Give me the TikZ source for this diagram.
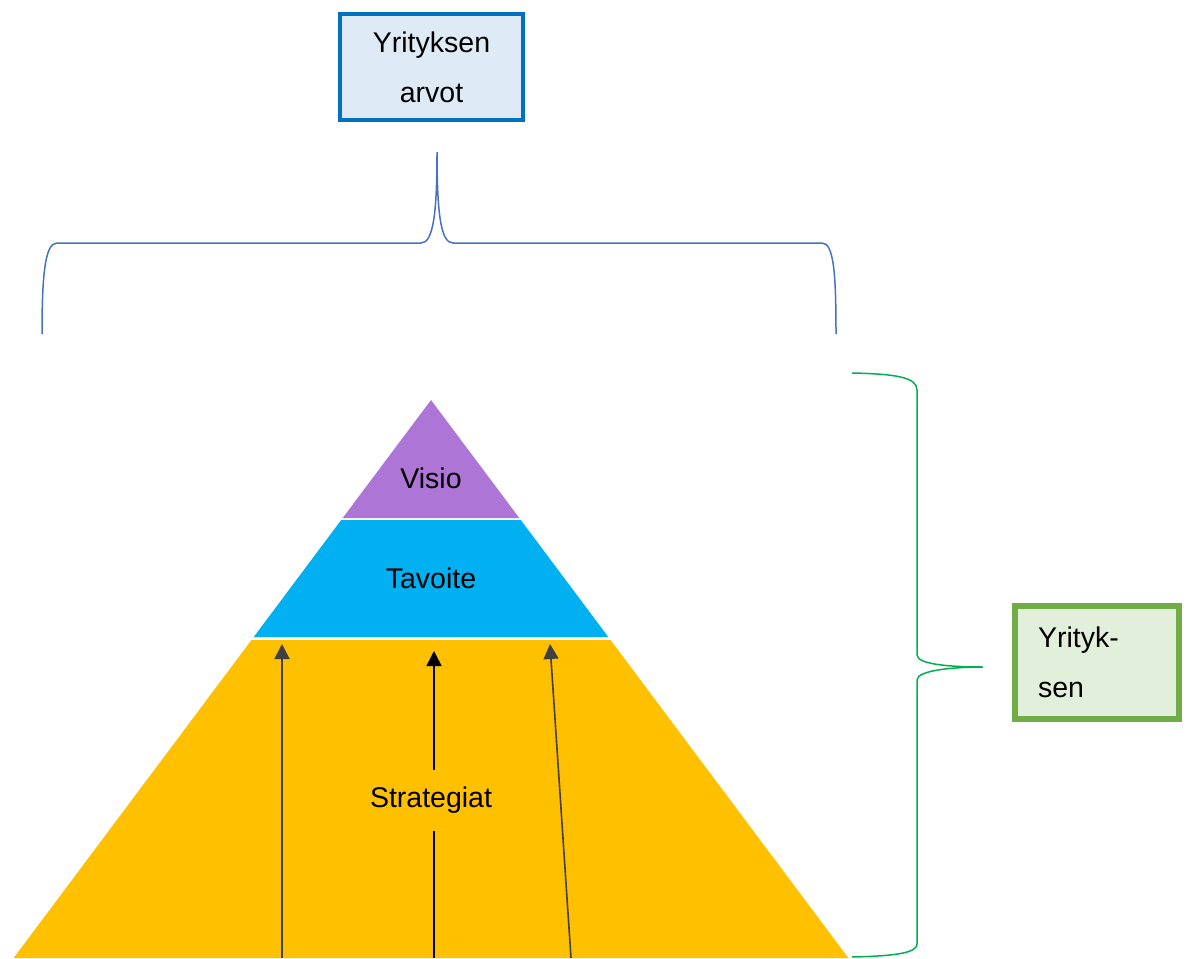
\documentclass[tikz,border=0pt]{standalone}
\usepackage{fontspec}
\setmainfont{Liberation Sans}
\usetikzlibrary{arrows.meta}
\definecolor{visiofill}{HTML}{AD75D5}
\definecolor{tavoitefill}{HTML}{00B0F0}
\definecolor{strategiafill}{HTML}{FFC000}
\definecolor{valueblue}{HTML}{0070C0}
\definecolor{valuefill}{HTML}{DEEBF7}
\definecolor{bracegreen}{HTML}{00B050}
\definecolor{boxgreen}{HTML}{70AD47}
\definecolor{boxgreenfill}{HTML}{E2EFDA}
\definecolor{braceblue}{HTML}{4472C4}
\definecolor{arrowgray}{HTML}{404040}
\begin{document}
\begin{tikzpicture}[x=1pt,y=-1pt,
  every node/.style={font=\fontsize{28.5}{50}\selectfont, text=black},
  layer/.style={draw=white, line width=2.5pt},
  brace/.style={line width=1.5pt},
  uparrow/.style={line width=1.6pt, -{Triangle[length=15pt,width=15pt]}}]
\useasboundingbox (0,0) rectangle (1188,958);

% pyramid layers
\fill[visiofill] (431,400) -- (342.7,518) -- (519.3,518) -- cycle;
\fill[tavoitefill] (341.2,520) -- (520.8,520) -- (608.3,637) -- (253.7,637) -- cycle;
\fill[strategiafill] (251.5,640) -- (610.5,640) -- (848.4,958) -- (13.6,958) -- cycle;

% arrows rising through the strategy layer
\coordinate (l0) at (282,958);
\coordinate (l1) at (282,644);
\coordinate (m0) at (434,958);
\coordinate (m1) at (434,651);
\coordinate (r0) at (571,958);
\coordinate (r1) at (550,644);
\draw[uparrow, arrowgray] (l0) -- (l1);
\draw[uparrow, arrowgray] (r0) -- (r1);
\draw[uparrow, black] (m0) -- (m1);

% layer labels
\node (visio) at (431,478) {Visio};
\node (tavoite) at (431,578) {Tavoite};
\node[fill=strategiafill, minimum height=61pt, inner xsep=2pt] (strat) at (431,800) {Strategiat};

% company values box
\node[draw=valueblue, fill=valuefill, line width=4pt, minimum width=183pt,
      minimum height=106pt, align=center] (arvot) at (431.5,67) {Yrityksen\\arvot};

% brace under the values box
\coordinate (btip) at (437,152);
\coordinate (bl) at (42,334);
\coordinate (br) at (836,334);
\draw[brace, braceblue] (bl) .. controls (42,275) and (45,243) .. (57,243)
  -- (421,243) .. controls (433,243) and (437,215) .. (btip)
  .. controls (437,215) and (441,243) .. (453,243)
  -- (822,243) .. controls (834,243) and (836,275) .. (br);

% brace beside the pyramid
\coordinate (gtop) at (852,373);
\coordinate (gtip) at (983,667);
\coordinate (gbot) at (852,957);
\draw[brace, bracegreen] (gtop) .. controls (895,374) and (917,377) .. (917,390)
  -- (917,655) .. controls (917,665) and (955,667) .. (gtip)
  .. controls (955,667) and (917,670) .. (917,680)
  -- (917,944) .. controls (917,953) and (895,956) .. (gbot);

% company box on the right
\node[draw=boxgreen, fill=boxgreenfill, line width=6pt, minimum width=164pt,
      minimum height=113pt, text width=118pt, inner xsep=23pt, align=left]
      (yritys) at (1097,662.5) {Yrityk-\\sen};
\end{tikzpicture}
\end{document}
